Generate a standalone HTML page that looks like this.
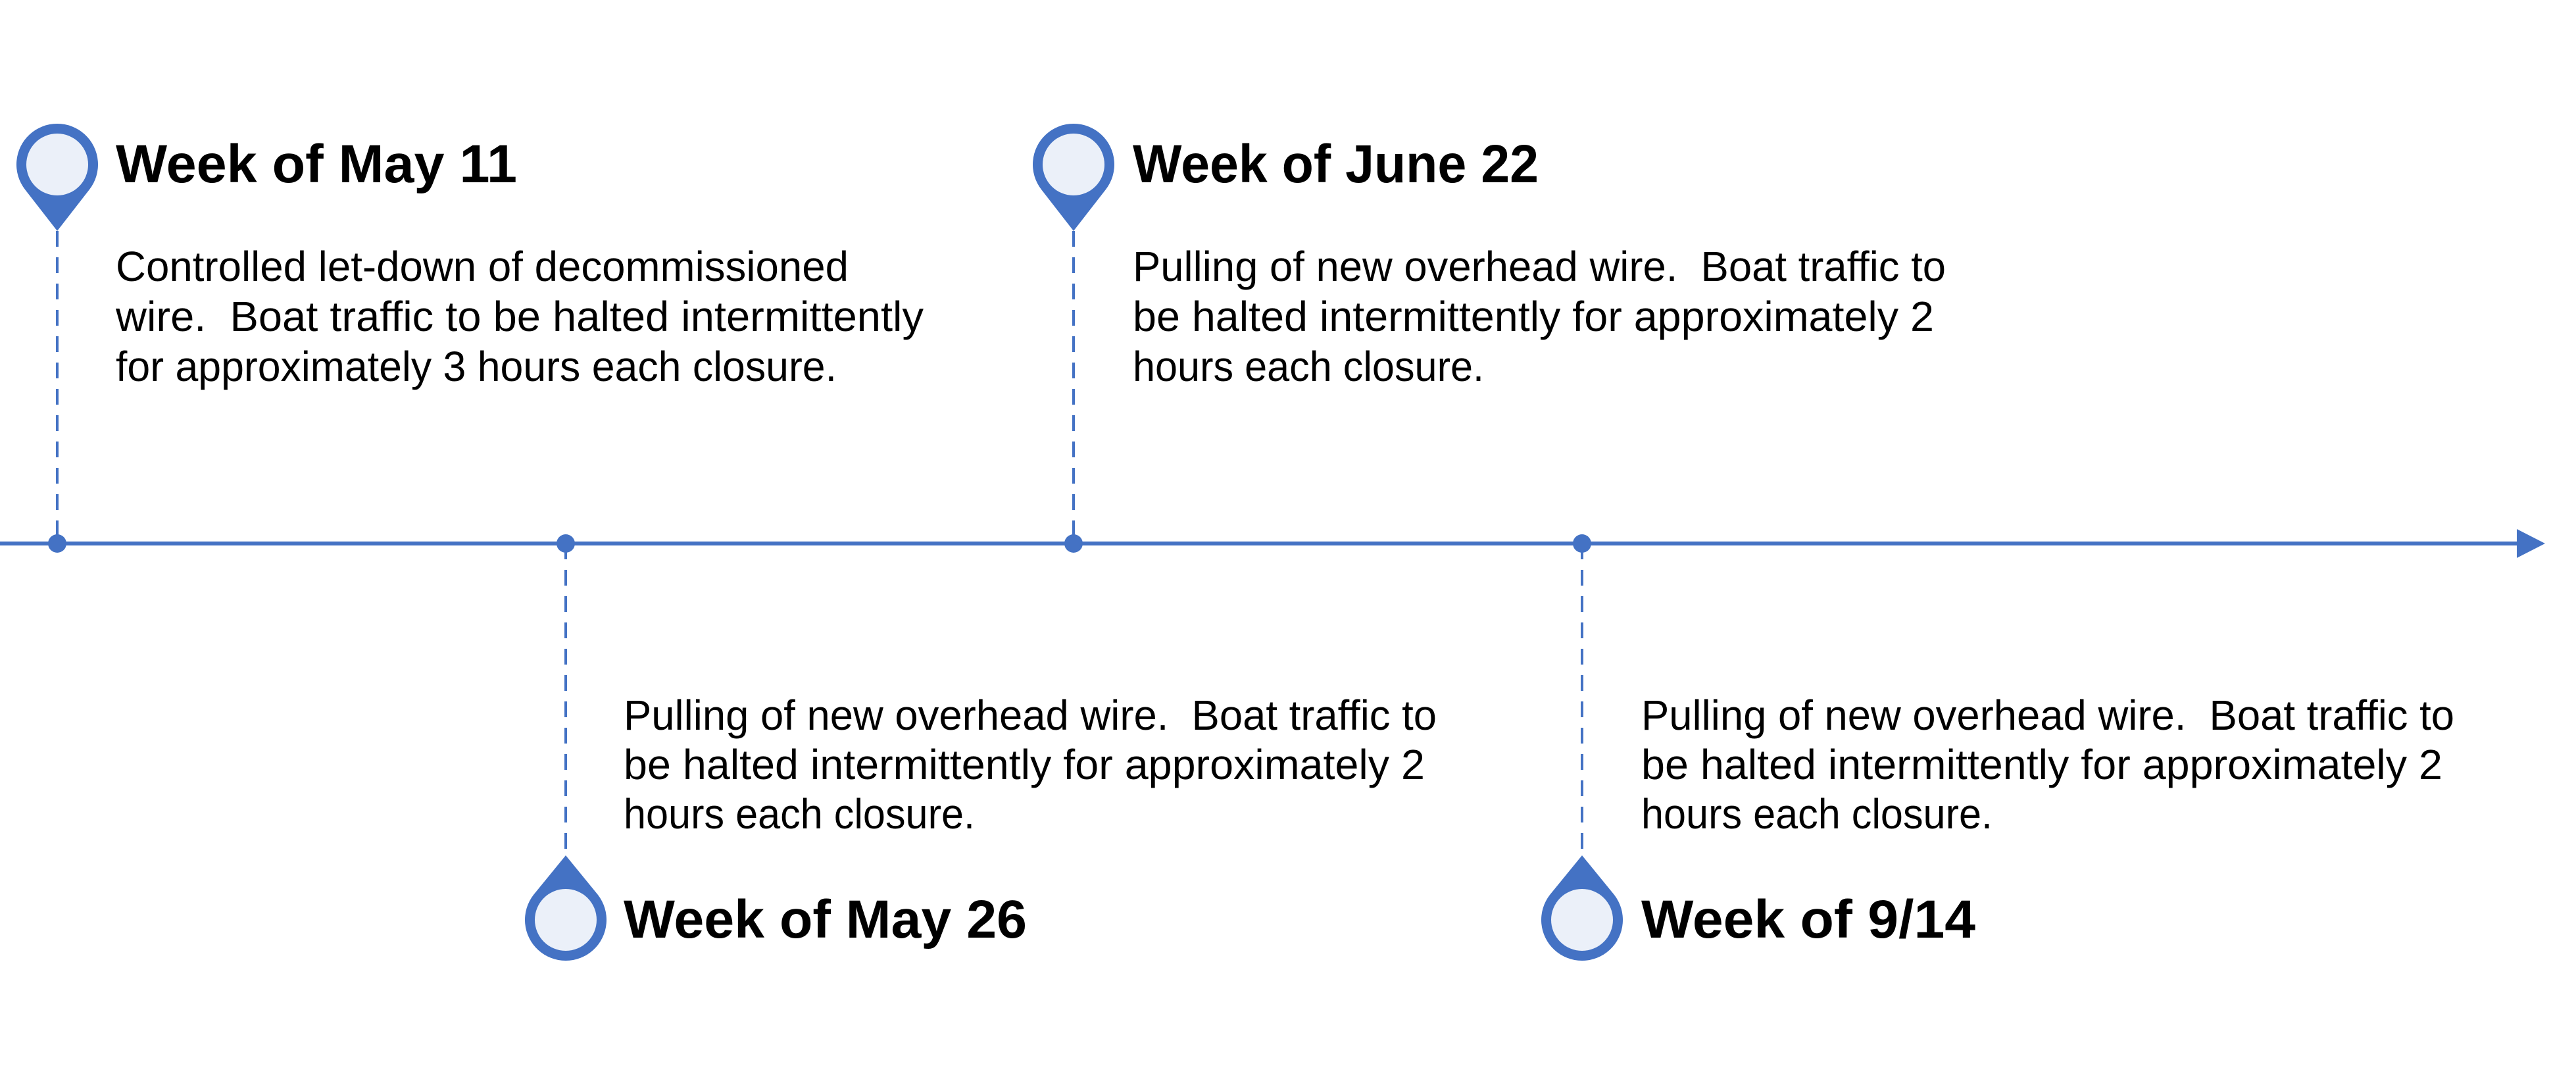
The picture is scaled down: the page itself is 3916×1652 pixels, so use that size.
<!DOCTYPE html>
<html><head><meta charset="utf-8"><style>
html,body{margin:0;padding:0;background:#fff;}
svg{display:block;}
.t{font-family:"Liberation Sans",sans-serif;font-weight:bold;font-size:82px;fill:#000;}
.b{font-family:"Liberation Sans",sans-serif;font-size:64px;fill:#000;}
</style></head><body>
<svg width="3916" height="1652" viewBox="0 0 3916 1652" xmlns="http://www.w3.org/2000/svg">
<rect width="3916" height="1652" fill="#fff"/>
<line x1="0" y1="826" x2="3830" y2="826" stroke="#4472C4" stroke-width="6"/>
<polygon points="3826,804 3869,826 3826,848" fill="#4472C4"/>
<g stroke="#4472C4" stroke-width="4" stroke-dasharray="24 16">
<line x1="87" y1="351" x2="87" y2="826"/>
<line x1="1632" y1="351" x2="1632" y2="826"/>
<line x1="860" y1="826" x2="860" y2="1300"/>
<line x1="2405" y1="826" x2="2405" y2="1300"/>
</g>
<g fill="#4472C4">
<circle cx="87" cy="826" r="14"/>
<circle cx="860" cy="826" r="14"/>
<circle cx="1632" cy="826" r="14"/>
<circle cx="2405" cy="826" r="14"/>
</g>
<g>
<path d="M87,351 L38.1,288.1 A62,62 0 1 1 135.9,288.1 Z" fill="#4472C4"/>
<circle cx="87" cy="250" r="47" fill="#EBF0F9"/>
<path d="M1632,351 L1583.1,288.1 A62,62 0 1 1 1680.9,288.1 Z" fill="#4472C4"/>
<circle cx="1632" cy="250" r="47" fill="#EBF0F9"/>
<path d="M860,1300 L811.1,1359.9 A62,62 0 1 0 908.9,1359.9 Z" fill="#4472C4"/>
<circle cx="860" cy="1398" r="47" fill="#EBF0F9"/>
<path d="M2405,1300 L2356.1,1359.9 A62,62 0 1 0 2453.9,1359.9 Z" fill="#4472C4"/>
<circle cx="2405" cy="1398" r="47" fill="#EBF0F9"/>
</g>
<text class="t" x="176" y="277" textLength="610" lengthAdjust="spacingAndGlyphs">Week of May 11</text>
<text class="t" x="1722" y="277" textLength="617" lengthAdjust="spacingAndGlyphs">Week of June 22</text>
<text class="t" x="948" y="1425" textLength="613" lengthAdjust="spacingAndGlyphs">Week of May 26</text>
<text class="t" x="2495" y="1425" textLength="508" lengthAdjust="spacingAndGlyphs">Week of 9/14</text>
<text class="b" x="176" y="427" textLength="1114" lengthAdjust="spacingAndGlyphs">Controlled let-down of decommissioned</text>
<text class="b" x="176" y="503" textLength="1228" lengthAdjust="spacingAndGlyphs">wire.&#160; Boat traffic to be halted intermittently</text>
<text class="b" x="176" y="579" textLength="1096" lengthAdjust="spacingAndGlyphs">for approximately 3 hours each closure.</text>
<text class="b" x="1722" y="427" textLength="1236" lengthAdjust="spacingAndGlyphs">Pulling of new overhead wire.&#160; Boat traffic to</text>
<text class="b" x="1722" y="503" textLength="1218" lengthAdjust="spacingAndGlyphs">be halted intermittently for approximately 2</text>
<text class="b" x="1722" y="579" textLength="534" lengthAdjust="spacingAndGlyphs">hours each closure.</text>
<text class="b" x="948" y="1109" textLength="1236" lengthAdjust="spacingAndGlyphs">Pulling of new overhead wire.&#160; Boat traffic to</text>
<text class="b" x="948" y="1184" textLength="1218" lengthAdjust="spacingAndGlyphs">be halted intermittently for approximately 2</text>
<text class="b" x="948" y="1259" textLength="534" lengthAdjust="spacingAndGlyphs">hours each closure.</text>
<text class="b" x="2495" y="1109" textLength="1236" lengthAdjust="spacingAndGlyphs">Pulling of new overhead wire.&#160; Boat traffic to</text>
<text class="b" x="2495" y="1184" textLength="1218" lengthAdjust="spacingAndGlyphs">be halted intermittently for approximately 2</text>
<text class="b" x="2495" y="1259" textLength="534" lengthAdjust="spacingAndGlyphs">hours each closure.</text>
</svg>
</body></html>
